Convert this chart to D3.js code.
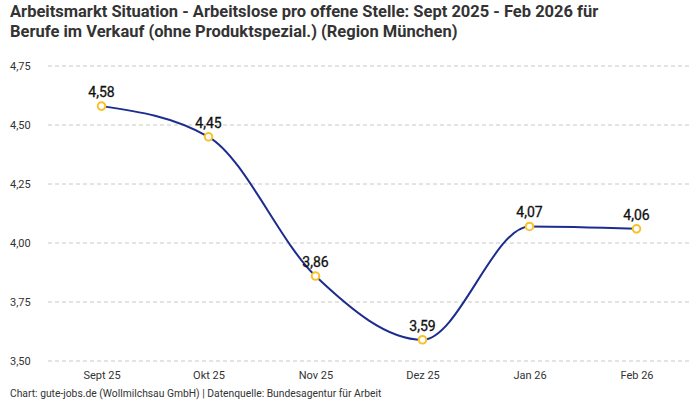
<!DOCTYPE html>
<html>
<head>
<meta charset="utf-8">
<script src="https://cdn.jsdelivr.net/npm/d3@7"></script>
<style>
  body { margin: 0; background: #fff; }
  text { font-family: Roboto, "Noto Sans", sans-serif; }
</style>
</head>
<body>
<div id="chart"></div>
<script>
// data
var months = ["Sept 25", "Okt 25", "Nov 25", "Dez 25", "Jan 26", "Feb 26"];
var values = [4.58, 4.45, 3.86, 3.59, 4.07, 4.06];
var yTicks = [3.5, 3.75, 4.0, 4.25, 4.5, 4.75];

var svgWidth = 700;
var svgHeight = 400;

var margin = { top: 66, right: 10, bottom: 39, left: 48 };
var width = svgWidth - margin.left - margin.right;
var height = svgHeight - margin.top - margin.bottom;

var svg = d3.select("#chart")
  .append("svg")
  .attr("width", svgWidth)
  .attr("height", svgHeight);

// title
var title = svg.append("text")
  .attr("x", 10)
  .attr("font-size", "16.5px")
  .attr("font-weight", "bold")
  .attr("fill", "#333");
title.append("tspan").attr("x", 10).attr("y", 17)
  .text("Arbeitsmarkt Situation - Arbeitslose pro offene Stelle: Sept 2025 - Feb 2026 für");
title.append("tspan").attr("x", 10).attr("y", 37)
  .text("Berufe im Verkauf (ohne Produktspezial.) (Region München)");

var chartGroup = svg.append("g")
  .attr("transform", `translate(${margin.left}, ${margin.top})`);

var x = d3.scalePoint()
  .domain(months)
  .range([0, width])
  .padding(0.5);

var y = d3.scaleLinear()
  .domain([3.5, 4.75])
  .range([height, 0]);

var fmt = function(v) { return d3.format(".2f")(v).replace(".", ","); };

// grid
chartGroup.append("g")
  .selectAll("line")
  .data(yTicks)
  .enter()
  .append("line")
  .attr("x1", 0)
  .attr("x2", width)
  .attr("y1", d => y(d))
  .attr("y2", d => y(d))
  .attr("stroke", "#c8c8c8")
  .attr("stroke-width", 1)
  .attr("stroke-dasharray", "4,3");

// y axis labels
var leftAxis = d3.axisLeft(y).tickValues(yTicks).tickFormat(fmt).tickSize(0).tickPadding(16);
var yAxis = chartGroup.append("g").call(leftAxis);
yAxis.select(".domain").remove();
yAxis.selectAll("text")
  .attr("font-size", "11px")
  .attr("fill", "#333")
  .attr("x", -38)
  .attr("text-anchor", "start");

// x axis labels
var bottomAxis = d3.axisBottom(x).tickSize(0).tickPadding(10);
var xAxis = chartGroup.append("g")
  .attr("transform", `translate(0, ${height})`)
  .call(bottomAxis);
xAxis.select(".domain").remove();
xAxis.selectAll("text")
  .attr("font-size", "11px")
  .attr("fill", "#333");

// line
var line = d3.line()
  .x((d, i) => x(months[i]))
  .y(d => y(d))
  .curve(d3.curveMonotoneX);

chartGroup.append("path")
  .datum(values)
  .attr("d", line)
  .attr("fill", "none")
  .attr("stroke", "#1c2d8f")
  .attr("stroke-width", 2);

// points
chartGroup.append("g")
  .selectAll("circle")
  .data(values)
  .enter()
  .append("circle")
  .attr("cx", (d, i) => x(months[i]))
  .attr("cy", d => y(d))
  .attr("r", 3.8)
  .attr("fill", "#fff")
  .attr("stroke", "#f9c02a")
  .attr("stroke-width", 2);

// value labels
chartGroup.append("g")
  .selectAll("text")
  .data(values)
  .enter()
  .append("text")
  .attr("x", (d, i) => x(months[i]))
  .attr("y", d => y(d) - 9)
  .attr("text-anchor", "middle")
  .attr("font-size", "14px")
  .attr("fill", "#111")
  .attr("stroke", "#111")
  .attr("stroke-width", 0.3)
  .text(d => fmt(d));

// footer
svg.append("text")
  .attr("x", 10)
  .attr("y", 397)
  .attr("font-size", "10.3px")
  .attr("fill", "#333")
  .text("Chart: gute-jobs.de (Wollmilchsau GmbH) | Datenquelle: Bundesagentur für Arbeit");
</script>
</body>
</html>
